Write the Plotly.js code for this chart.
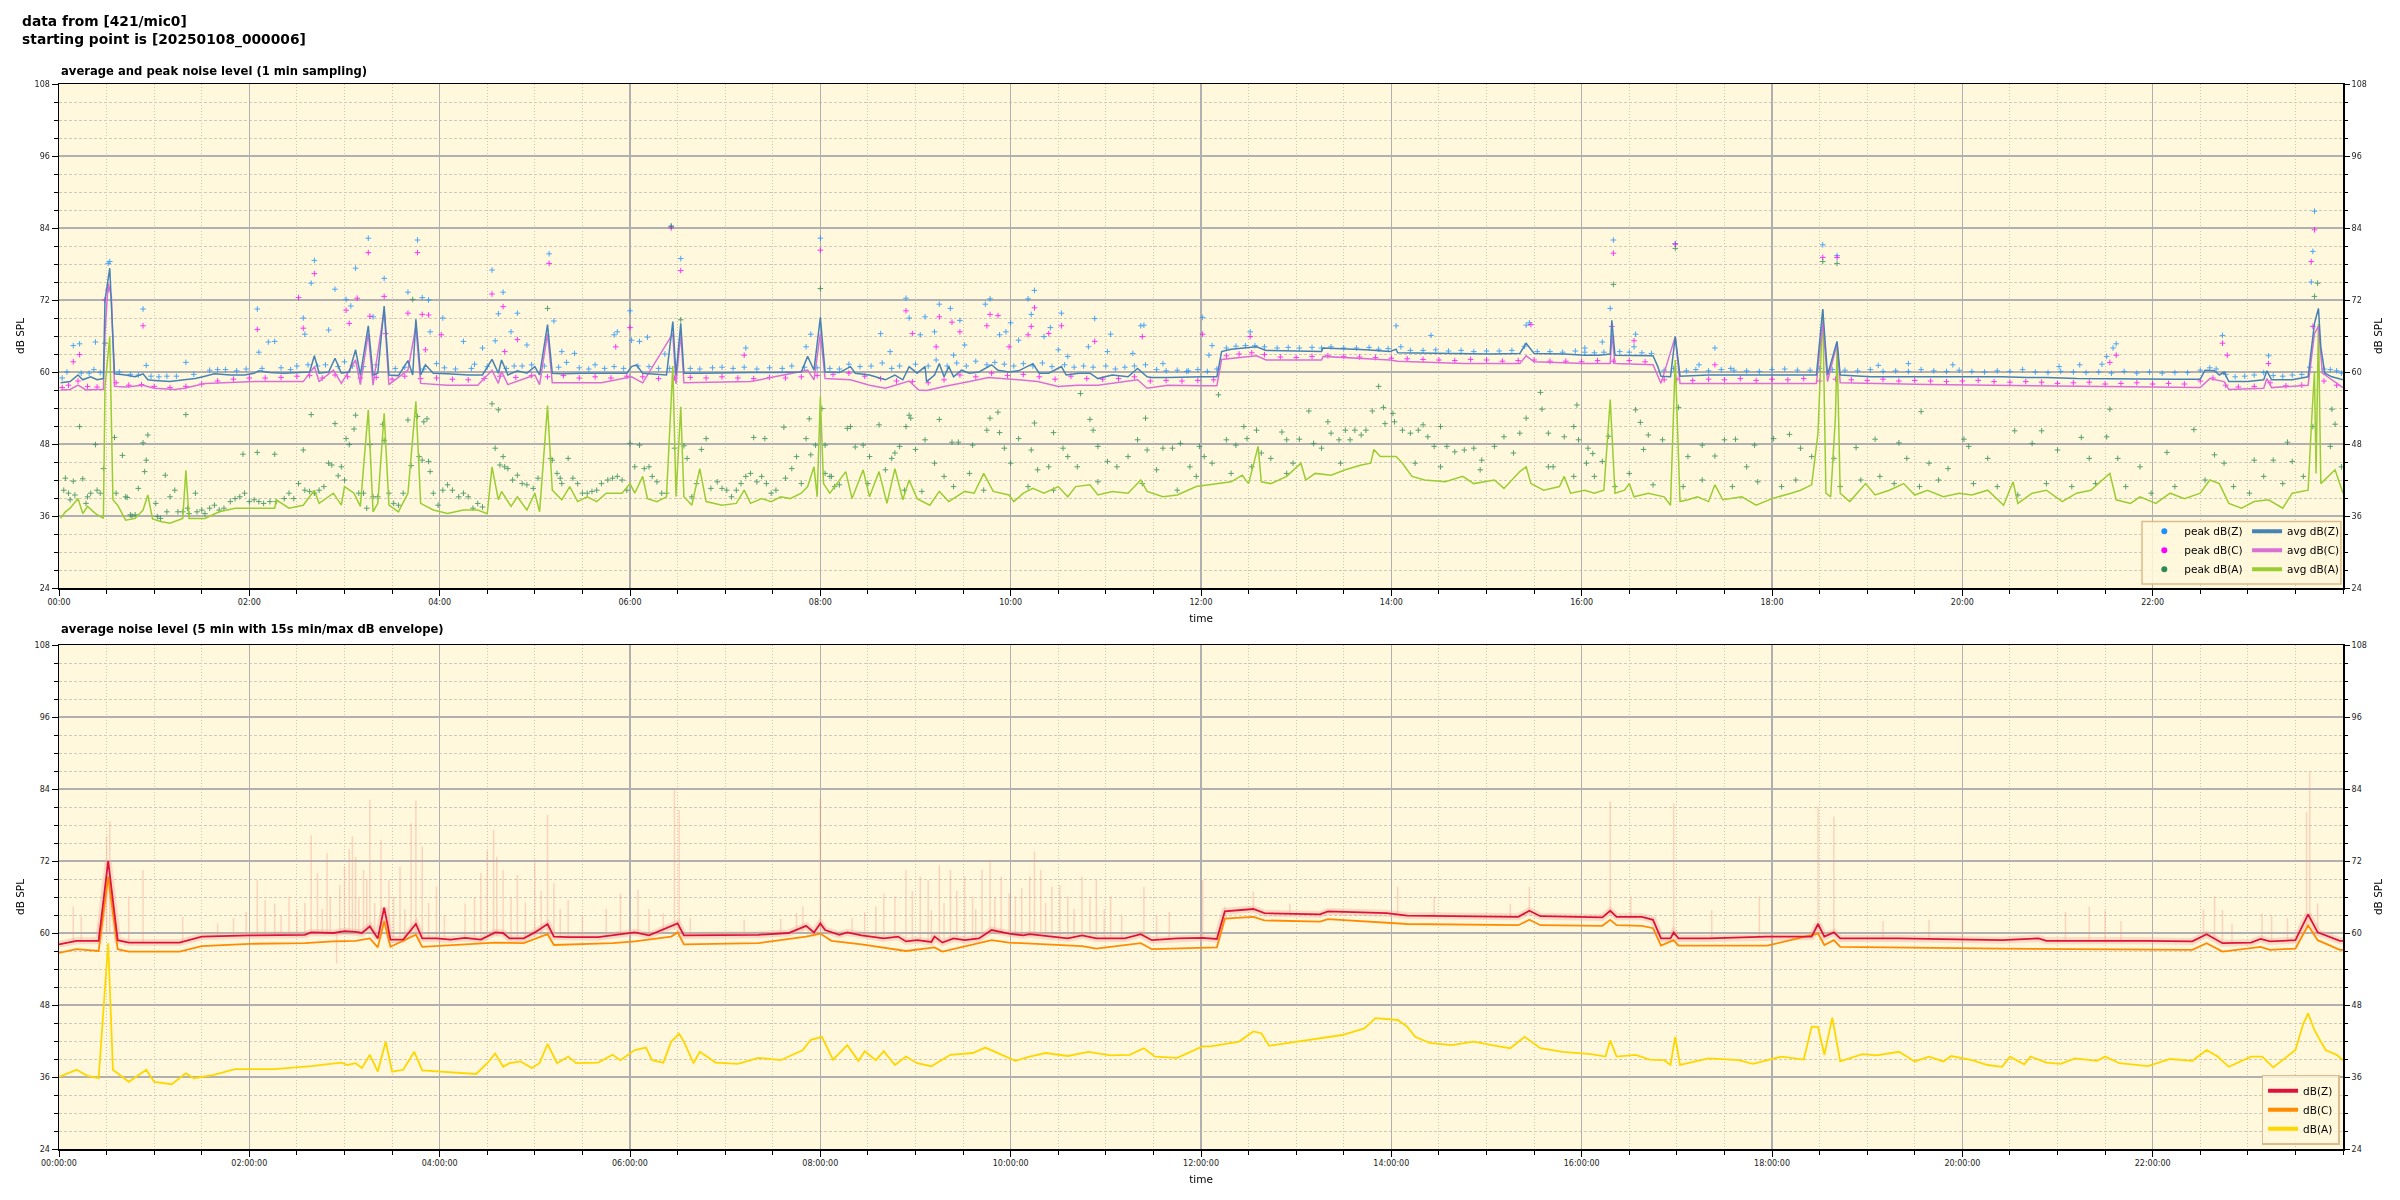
<!DOCTYPE html>
<html>
<head>
<meta charset="utf-8">
<script src="https://cdn.plot.ly/plotly-3.0.1.min.js"></script>
<style>html,body{margin:0;padding:0;background:#fff;}#chart{width:2400px;height:1200px;}</style>
</head>
<body>
<div id="chart"></div>
<script>
// ---------- DATA (time in minutes since 00:00, value in dB) ----------
const avgZ = [[1,58.2],[7,58.4],[12,59.5],[15,58.7],[20,59.2],[24,58.7],[28,58.9],[29,72.0],[32,77.3],[34,66.4],[35,59.7],[42,59.5],[48,59.2],[53,59.7],[56,58.7],[60,58.6],[70,58.4],[79,58.7],[86,58.9],[92,59.3],[98,59.7],[108,59.5],[117,59.5],[123,59.8],[126,60.2],[133,59.9],[142,59.8],[151,59.9],[158,60.0],[161,62.7],[164,59.8],[170,60.0],[174,62.3],[178,59.8],[183,60.0],[187,63.7],[190,59.5],[195,67.7],[198,59.5],[201,59.8],[205,71.0],[208,59.5],[214,59.4],[220,61.9],[223,59.5],[225,68.8],[228,59.5],[231,61.2],[236,59.8],[245,59.7],[258,59.5],[267,59.5],[273,62.1],[277,59.8],[279,62.0],[283,59.5],[289,60.2],[295,59.8],[300,60.9],[303,59.5],[308,67.9],[311,59.8],[317,59.7],[330,59.8],[342,59.8],[352,59.9],[358,59.8],[361,60.9],[364,61.2],[368,59.8],[374,59.7],[383,59.5],[387,68.4],[389,59.5],[392,68.1],[394,59.8],[405,59.8],[421,59.9],[436,59.9],[452,59.9],[468,60.0],[472,62.6],[476,60.3],[480,69.1],[483,60.0],[492,59.9],[499,60.9],[502,59.8],[511,59.5],[521,58.7],[527,59.5],[532,58.7],[536,60.9],[541,59.8],[546,60.9],[547,58.4],[552,59.5],[555,61.4],[558,59.2],[561,60.9],[564,59.2],[569,60.3],[574,59.8],[580,60.0],[588,61.2],[592,60.3],[599,60.0],[605,60.2],[614,61.4],[618,59.8],[624,59.8],[632,60.9],[635,59.5],[643,59.8],[650,59.8],[655,58.9],[664,59.5],[674,59.2],[680,60.6],[686,59.2],[689,59.1],[699,59.1],[711,59.2],[721,59.2],[730,59.2],[733,63.4],[739,63.8],[752,64.1],[755,64.2],[761,63.6],[777,63.5],[796,63.4],[797,64.0],[824,63.7],[839,63.4],[843,63.8],[844,63.2],[871,63.1],[902,63.0],[921,63.1],[925,64.8],[930,63.1],[949,63.0],[962,62.8],[971,62.8],[978,63.0],[979,68.6],[981,62.8],[993,62.7],[1005,62.7],[1008,60.9],[1010,59.3],[1016,59.2],[1019,65.9],[1022,59.3],[1040,59.5],[1055,59.5],[1080,59.5],[1092,59.5],[1108,59.5],[1112,70.5],[1115,59.5],[1121,65.1],[1123,59.5],[1142,59.2],[1163,59.2],[1179,59.3],[1204,59.2],[1225,59.2],[1241,59.1],[1253,59.1],[1272,58.9],[1303,58.8],[1334,58.8],[1350,58.8],[1353,60.3],[1359,60.2],[1362,59.5],[1365,60.0],[1368,58.4],[1380,58.4],[1390,58.7],[1392,60.2],[1395,58.7],[1408,58.7],[1418,59.2],[1420,63.7],[1422,68.1],[1424.5,70.6],[1426,64.2],[1428.5,59.8],[1433,59.2],[1440,58.7]];

const avgC = [[1,57.0],[7,57.1],[12,57.8],[17,57.0],[23,57.1],[28,57.1],[29,66.4],[31,74.8],[33,72.6],[35,57.6],[42,57.5],[53,57.8],[60,57.3],[73,57.1],[79,57.3],[86,57.8],[92,58.1],[104,58.2],[123,58.4],[139,58.4],[154,58.4],[161,60.9],[164,58.4],[173,60.3],[178,58.1],[187,62.0],[190,57.9],[195,66.4],[198,57.8],[205,70.3],[208,57.9],[220,60.3],[225,67.6],[228,58.1],[245,57.8],[264,57.8],[273,60.3],[277,58.1],[279,60.1],[283,57.9],[300,59.5],[303,57.9],[308,66.4],[311,58.2],[342,58.2],[361,59.2],[368,58.2],[387,66.4],[389,58.0],[392,66.4],[394,58.2],[436,58.4],[472,60.3],[476,58.7],[480,66.4],[483,58.9],[499,58.7],[511,57.8],[521,57.3],[536,58.5],[542,57.0],[547,56.9],[558,57.6],[574,58.4],[586,59.1],[605,58.7],[617,58.4],[630,57.6],[642,57.8],[655,57.8],[680,58.7],[686,57.3],[699,57.8],[721,57.7],[730,57.7],[733,62.1],[755,62.7],[761,62.0],[796,62.0],[797,62.6],[839,62.0],[844,61.8],[886,61.4],[921,61.4],[925,62.7],[930,61.7],[962,61.4],[978,61.4],[979,66.4],[981,61.4],[1005,61.2],[1010,58.1],[1019,65.9],[1022,58.1],[1055,58.1],[1108,58.1],[1112,68.4],[1115,58.4],[1121,64.8],[1123,58.2],[1179,57.9],[1241,57.7],[1272,57.6],[1350,57.4],[1356,58.9],[1365,58.4],[1368,57.1],[1390,57.3],[1392,58.9],[1395,57.4],[1418,57.8],[1420,62.6],[1422,66.4],[1424.5,67.6],[1427,59.8],[1440,57.4]];

const avgA = [[1,35.6],[4,36.7],[7,37.3],[12,38.9],[15,36.4],[18,37.6],[23,36.4],[28,35.6],[29,57.6],[32,65.9],[34,38.7],[37,37.8],[42,35.3],[48,35.6],[53,37.0],[56,39.5],[59,35.5],[64,35.1],[70,34.8],[78,35.6],[80,43.6],[82,35.6],[92,35.6],[101,36.7],[111,37.3],[123,37.3],[136,37.3],[137,38.7],[145,37.3],[154,37.8],[161,40.3],[164,38.1],[173,39.8],[178,37.8],[180,40.9],[186,39.8],[190,37.6],[195,53.7],[198,36.7],[201,38.1],[205,53.1],[208,37.8],[214,36.7],[220,39.8],[225,55.1],[228,38.1],[236,37.0],[245,36.4],[255,37.0],[264,37.0],[270,36.4],[273,44.2],[277,38.7],[279,40.1],[285,37.6],[289,39.2],[295,37.0],[300,39.8],[303,36.7],[308,54.4],[311,40.3],[317,38.7],[322,40.9],[327,38.4],[333,39.2],[339,38.4],[345,39.8],[355,39.8],[360,41.4],[363,39.8],[368,42.6],[371,38.9],[377,38.4],[383,39.2],[387,61.0],[389,39.2],[392,54.2],[394,39.2],[399,37.8],[404,43.9],[408,38.4],[418,37.8],[427,38.1],[432,40.3],[436,38.1],[443,38.9],[449,38.4],[455,39.2],[461,38.9],[468,39.8],[472,40.9],[476,44.2],[478,39.2],[480,55.9],[482,41.4],[486,39.8],[496,43.4],[500,38.9],[507,43.7],[511,39.2],[517,43.4],[522,38.1],[527,43.9],[532,38.7],[536,42.0],[541,38.9],[549,37.8],[555,40.1],[561,38.4],[571,40.1],[577,39.8],[583,43.1],[589,40.1],[599,39.5],[602,38.4],[608,39.8],[614,40.6],[621,39.8],[630,40.9],[636,39.2],[641,40.9],[650,41.2],[655,39.5],[664,40.1],[674,39.8],[682,42.0],[686,40.1],[696,39.2],[705,39.5],[717,40.9],[730,41.4],[739,41.7],[746,42.8],[750,41.4],[756,47.6],[758,41.7],[764,41.4],[774,42.6],[783,44.8],[786,42.0],[792,43.1],[802,42.8],[811,43.7],[821,44.5],[827,44.8],[829,47.1],[833,45.9],[843,45.9],[847,44.8],[853,42.6],[861,42.0],[874,41.7],[885,42.6],[892,41.4],[905,42.0],[911,40.6],[921,43.4],[925,44.2],[928,41.4],[936,40.3],[946,40.9],[949,42.6],[953,39.8],[962,40.3],[968,39.8],[974,40.3],[978,55.4],[981,39.8],[987,40.3],[990,41.4],[993,39.2],[1002,39.8],[1012,39.2],[1016,37.8],[1019,62.0],[1022,38.4],[1027,38.7],[1033,39.2],[1040,38.4],[1044,41.2],[1049,38.7],[1055,38.9],[1061,39.2],[1070,37.8],[1080,38.9],[1092,39.8],[1098,40.3],[1105,41.2],[1109,49.8],[1112,70.3],[1114,39.8],[1117,39.2],[1120,52.6],[1121,64.2],[1123,39.8],[1129,38.4],[1139,41.4],[1145,39.5],[1154,40.3],[1163,41.4],[1170,39.5],[1178,40.3],[1188,39.2],[1198,39.8],[1206,39.5],[1216,40.3],[1226,37.8],[1232,41.7],[1235,38.1],[1244,39.8],[1253,40.3],[1263,38.4],[1272,39.8],[1281,40.3],[1293,43.1],[1297,38.7],[1306,38.1],[1312,39.2],[1322,38.1],[1331,39.8],[1340,38.9],[1350,39.8],[1356,42.0],[1362,41.4],[1368,38.1],[1376,37.3],[1384,38.4],[1393,38.7],[1402,37.3],[1408,39.8],[1418,40.3],[1420,50.9],[1422,60.0],[1423,43.1],[1424.5,68.0],[1426,41.4],[1435,43.7],[1440,39.8]];

const peakZ = [[32,78.4],[31,78.1],[9,64.4],[13,64.7],[23,65.0],[53,70.5],[55,61.1],[80,61.6],[125,70.5],[126,63.3],[132,65.0],[136,65.1],[154,69.0],[155,66.3],[161,78.6],[159,74.8],[170,67.0],[174,73.8],[181,72.1],[184,71.0],[187,77.3],[195,82.3],[198,69.2],[205,75.6],[220,73.3],[226,82.0],[229,72.4],[233,72.0],[234,66.7],[242,69.0],[255,65.1],[267,64.0],[273,77.0],[275,65.2],[277,69.7],[280,73.3],[285,66.7],[289,69.8],[295,64.5],[309,79.7],[312,68.5],[317,63.4],[325,63.1],[350,66.2],[352,66.7],[360,70.2],[361,65.3],[366,65.1],[371,65.8],[382,63.0],[386,84.3],[392,78.9],[433,64.0],[471,64.2],[474,66.3],[480,82.3],
[534,72.3],[536,69.0],[546,69.2],[555,71.3],[562,70.6],[568,68.6],[584,71.3],[587,72.2],[593,66.2],[600,68.2],[611,72.2],[615,73.6],[613,69.6],[625,67.4],[632,69.8],[653,68.9],[663,66.3],[682,67.7],[684,67.8],[721,69.1],[727,64.4],[751,66.7],[843,67.7],[865,66.1],[925,67.8],[927,68.2],[518,66.4],[524,63.4],[543,66.2],[552,66.7],[564,62.8],[571,64.5],[597,66.7],[605,65.3],[621,65.9],[630,63.7],[636,62.6],[649,64.2],[661,63.4],[677,63.1],[696,61.4],[711,60.1],[725,62.8],
[980,82.0],[978,70.6],[994,66.3],[973,65.0],[1019,81.4],[1044,64.0],[1112,81.2],[1121,79.4],[1297,64.7],[1364,66.1],[1393,62.7],[1422,86.8],[1421,80.1],[1420,75.0],[1291,62.6],[1295,64.0],[1147,61.1],[1166,61.4],[1194,61.2],[1261,60.9],[1274,61.2],[1288,61.3],[962,64.0],[1034,61.2],[1054,60.6],[993,64.2],
[2,59.0],[5,60.0],[14,59.8],[19,59.8],[22,60.4],[26,59.9],[38,60.0],[45,59.6],[50,59.5],[58,59.3],[63,59.2],[68,59.3],[74,59.3],[85,59.6],[95,60.3],[100,60.4],[105,60.4],[112,60.2],[118,60.5],[128,60.6],[140,60.7],[146,60.4],[150,61.0],[157,61.2],[163,61.0],[168,61.2],[176,60.9],[180,61.7],[185,61.0],[192,60.9],[200,61.2],[212,60.6],[218,60.8],[230,60.5],[238,61.4],[243,60.7],[250,60.5],[260,60.6],[262,61.3],[270,60.9],[282,60.6],[287,61.0],[292,61.0],[298,61.2],[306,61.0],[315,60.8],[320,61.6],[328,60.7],[334,60.5],[338,61.2],[344,60.6],[350,60.9],[356,60.6],[365,61.0],[372,60.9],[378,60.6],[385,60.6],[398,60.6],[404,60.5],[412,60.7],[418,60.8],[425,60.6],[432,60.8],[440,60.5],[448,60.7],[456,60.6],[462,61.0],[470,60.8],[478,60.7],[486,60.6],
[492,60.5],[498,61.3],[505,60.9],[512,61.0],[519,61.5],[525,60.6],[530,61.0],[540,61.3],[548,61.0],[553,62.0],[560,61.0],[566,61.5],[572,61.0],[578,61.8],[585,61.2],[590,61.6],[596,61.3],[602,61.0],[608,61.4],[614,61.0],[620,61.5],[626,60.9],[634,61.2],[640,60.8],[646,61.0],[652,60.8],[660,61.0],[666,60.5],[672,60.8],[678,61.0],[685,61.2],[692,60.4],[698,60.2],[705,60.3],[712,60.2],[718,60.4],[724,60.1],[730,60.5],[736,64.0],[742,64.3],[748,64.4],[754,64.4],[760,64.2],[768,64.0],[775,64.1],[782,64.0],[790,64.1],[796,64.0],[802,64.2],[810,64.0],[818,64.0],[826,64.1],[832,63.8],[838,63.9],[846,64.2],[852,63.6],[860,63.6],[868,63.7],[876,63.5],[884,63.6],[892,63.4],[900,63.5],[908,63.5],[916,63.6],[924,64.3],[932,63.4],[940,63.4],[948,63.3],[956,63.5],[962,63.3],
[968,63.2],[974,63.3],[984,63.4],[990,63.3],[998,63.2],[1004,63.1],[1012,60.3],[1018,60.6],[1026,60.2],[1032,60.4],[1040,60.2],[1048,60.4],[1056,60.3],[1064,60.2],[1072,60.1],[1080,60.4],[1088,60.5],[1096,60.3],[1104,60.3],[1110,60.6],[1118,60.4],[1126,60.3],[1134,60.2],[1142,60.4],[1150,60.1],[1158,60.2],[1166,60.1],[1174,60.4],[1182,60.2],[1190,60.1],[1198,60.3],[1206,60.1],[1214,60.0],[1222,60.2],[1230,60.1],[1238,60.4],[1246,60.0],[1254,59.9],[1262,60.1],[1270,60.0],[1278,59.9],[1286,60.0],[1294,59.8],[1302,60.1],[1310,59.8],[1318,60.0],[1326,59.8],[1334,59.9],[1342,59.9],[1350,60.3],[1356,60.7],[1360,60.5],[1366,59.6],[1372,59.2],[1378,59.3],[1384,59.5],[1390,59.9],[1396,59.4],[1402,59.3],[1408,59.5],[1414,59.6],[1419,60.8],[1428,60.5],[1432,60.4],[1436,60.2],[1439,59.8]];

const peakC = [[29,72.0],[31,73.7],[13,62.9],[9,61.7],[53,67.7],[125,67.1],[154,67.3],[161,76.4],[151,72.4],[181,70.3],[183,68.1],[188,72.3],[195,79.9],[196,69.3],[205,72.6],[206,66.4],[220,69.8],[226,79.9],[229,69.6],[233,69.5],[231,63.7],[241,66.2],[273,73.0],[280,70.9],[281,63.4],[289,65.4],[309,78.1],[360,67.4],[392,76.9],[386,84.0],[351,64.2],[432,62.8],[480,80.3],
[534,70.2],[538,66.4],[553,64.2],[555,69.2],[563,68.3],[568,66.7],[585,67.7],[587,69.6],[592,69.4],[599,64.2],[611,66.2],[615,70.7],[613,67.6],[624,66.4],[632,67.7],[653,65.1],[683,65.9],[721,66.3],[751,65.9],[928,67.9],
[980,79.8],[979,67.6],[1019,81.3],[1112,79.1],[1121,79.1],[993,65.2],[1044,61.2],[1293,61.6],[1297,62.8],[1364,64.8],[1367,62.8],[1393,61.4],[1422,83.7],[1421,67.6],[1420,78.4],
[2,57.4],[6,57.8],[12,58.5],[18,57.6],[24,57.5],[36,58.2],[44,57.8],[52,57.9],[60,57.6],[70,57.4],[80,57.6],[90,58.0],[100,58.5],[110,58.8],[120,59.0],[130,59.0],[140,59.1],[150,59.3],[158,59.4],[166,59.0],[174,59.5],[182,59.2],[190,59.0],[200,59.1],[210,58.8],[218,59.3],[228,58.9],[238,59.0],[248,58.8],[258,58.7],[268,58.9],[278,59.3],[288,59.1],[298,59.4],[308,59.2],[318,59.4],[328,59.0],[338,59.2],[348,59.0],[358,59.3],[368,59.2],[378,58.9],[388,59.0],[398,59.1],[408,59.0],[418,59.2],[428,59.0],[438,58.9],[448,59.1],[458,59.0],[468,59.2],[478,59.4],[488,59.6],[498,59.8],[508,59.3],[518,58.9],[528,58.5],[538,58.4],[548,58.2],[558,58.7],[568,59.5],[578,59.2],[588,59.8],[598,59.4],[608,59.6],[618,59.2],[628,58.8],[638,59.3],[648,58.9],[658,58.8],[668,58.9],[678,59.2],[688,58.5],[698,58.6],[708,58.5],[718,58.6],[728,58.7],[736,62.7],[744,63.0],[752,63.2],[760,62.9],[770,62.5],[780,62.4],[790,62.6],[800,62.7],[810,62.6],[820,62.5],[830,62.4],[840,62.3],[850,62.2],[860,62.1],[870,62.0],[880,61.9],[890,62.1],[900,62.0],[910,61.8],[920,61.9],[930,62.0],[940,61.8],[950,61.8],[960,61.7],[970,61.9],[980,61.8],[990,61.9],[1000,61.7],[1012,58.7],[1020,58.8],[1030,58.6],[1040,58.8],[1050,58.7],[1060,58.9],[1070,58.6],[1080,58.8],[1090,58.7],[1100,58.9],[1110,58.5],[1120,58.8],[1130,58.7],[1140,58.6],[1150,58.8],[1160,58.5],[1170,58.6],[1180,58.5],[1190,58.4],[1200,58.5],[1210,58.6],[1220,58.4],[1230,58.3],[1240,58.4],[1250,58.3],[1260,58.1],[1270,58.2],[1280,58.3],[1290,58.0],[1300,58.1],[1310,58.2],[1320,58.0],[1330,58.1],[1340,58.0],[1350,58.5],[1358,59.0],[1366,57.8],[1374,57.5],[1384,57.6],[1394,58.2],[1404,57.7],[1414,57.8],[1428,58.5],[1436,57.8]];

const peakA = [[4,42.3],[9,41.8],[13,50.9],[15,42.2],[3,40.3],[6,39.8],[7,38.7],[10,39.5],[17,38.1],[18,39.2],[20,39.8],[23,47.9],[24,40.3],[26,39.8],[28,43.9],[29,64.8],[35,49.1],[36,39.8],[40,46.1],[42,39.2],[43,39.1],[45,36.2],[46,36.0],[48,36.2],[50,40.6],[53,48.2],[54,43.4],[55,45.3],[56,49.5],[61,38.1],[62,35.9],[64,35.6],[67,42.8],[68,36.7],[70,39.2],[73,40.3],[75,36.7],[78,36.7],[80,52.9],[81,37.3],[82,36.4],[86,39.8],[87,36.7],[90,37.0],[92,36.4],[95,37.3],[98,37.8],[101,37.0],[104,37.3],[108,38.4],[111,38.9],[114,39.2],[116,46.3],[117,39.8],[120,38.4],[123,38.7],[125,46.6],[126,38.4],[129,38.1],[133,38.4],[136,46.3],[137,38.4],[142,38.9],[145,39.8],[148,38.9],[151,41.4],[154,47.0],[155,40.3],[158,40.1],[159,52.9],[161,39.8],[164,40.3],[167,40.9],[170,44.8],[172,44.5],[174,51.4],[176,42.7],[178,44.2],[180,42.0],[181,48.9],[183,47.9],[186,50.5],[187,52.8],[189,39.8],[192,39.8],[194,37.3],[196,47.9],[198,39.2],[201,39.2],[204,51.3],[205,48.6],[208,39.8],[211,38.1],[214,37.8],[217,39.8],[220,52.0],[222,44.4],[223,72.1],[226,52.6],[227,45.9],[229,45.3],[230,51.7],[232,52.2],[233,45.1],[234,43.4],[236,39.8],[239,37.8],[242,40.3],[245,41.2],[248,40.3],[252,39.2],[255,39.8],[258,39.2],[261,37.3],[264,38.1],[267,37.5],[273,54.7],[275,47.3],[277,53.7],[278,44.5],[280,45.9],[281,44.2],[283,43.9],[286,42.0],[289,42.8],[292,41.4],[295,41.2],[299,40.6],[302,42.3],[308,70.6],[310,45.6],[311,45.3],[314,43.1],[316,42.3],[317,41.4],[321,45.6],[324,42.3],[327,41.4],[330,39.8],[333,39.8],[336,40.1],[339,40.3],[342,41.4],[346,42.0],[349,42.3],[352,42.6],[355,42.0],[358,40.3],[360,48.1],[363,44.2],[366,47.8],[369,43.9],[372,44.2],[374,42.6],[377,41.7],[380,39.8],[383,39.8],[386,84.3],[388,47.3],[392,68.7],[394,47.7],[396,45.6],[399,39.2],[402,41.4],[405,47.1],[408,48.9],[411,40.6],[415,41.7],[418,40.6],[421,40.3],[424,39.2],[427,40.3],[430,41.4],[433,42.6],[436,43.1],[438,49.1],[440,41.7],[443,42.6],[445,48.9],[446,41.4],[449,39.8],[452,40.3],[457,50.8],[458,42.3],[462,43.9],[465,45.9],[468,41.4],[471,48.9],[473,52.2],[474,46.2],[477,47.8],[480,73.9],[481,53.9],[483,43.1],[487,42.6],
[483,47.8],[486,42.6],[492,41.2],[497,50.6],[499,50.9],[502,47.5],[507,47.8],[511,45.9],[517,51.2],[521,43.7],[525,45.6],[527,46.5],[530,47.6],[534,50.9],[536,52.8],[537,52.3],[540,47.1],[546,48.7],[552,44.8],[555,52.1],[558,42.6],[563,48.3],[567,48.3],[574,43.1],[576,47.8],[585,50.3],[587,52.3],[592,53.3],[593,49.9],[596,47.3],[600,44.8],[605,48.9],[613,47.0],[615,51.5],[617,43.7],[624,44.2],[627,49.9],[633,47.3],[636,45.9],[642,44.2],[644,56.4],[650,52.1],[652,50.3],[655,47.6],[661,45.1],[667,44.2],[674,45.9],[680,48.7],[685,52.3],[686,47.0],[692,43.7],[696,47.3],[702,47.3],[707,48.1],[713,44.2],[719,47.6],[722,45.9],[727,44.8],[731,56.2],[736,48.7],[742,47.8],[747,50.9],[749,48.9],[755,50.3],[758,46.5],[764,45.6],[771,50.0],[774,48.7],[778,44.8],[782,48.8],[788,53.5],[791,48.1],[796,47.3],[800,51.7],[802,49.8],[807,48.7],[811,50.3],[814,48.7],[817,50.3],[821,49.5],[824,50.3],[828,53.5],[832,57.6],[835,54.1],[836,51.4],[841,53.1],[842,51.7],[847,50.3],[852,49.8],[857,50.3],[860,51.2],[863,49.2],[867,47.6],[871,50.9],[875,47.6],[880,46.7],[886,47.0],[892,47.3],[897,45.3],[905,47.6],[911,49.2],[921,49.8],[925,52.3],[934,56.6],[935,53.8],[939,49.8],[942,44.2],[949,49.2],[955,50.9],[957,54.5],[958,48.7],[963,44.8],
[489,40.9],[510,41.4],[533,40.3],[544,40.1],[564,40.9],[583,40.3],[611,40.9],[627,40.3],[655,41.7],[683,41.4],[705,40.3],[717,42.6],[739,43.1],[752,44.2],[774,43.1],[808,44.8],[855,44.8],[871,44.2],[896,43.7],[917,46.5],[939,44.2],[955,42.6],
[980,74.6],[1019,80.6],[1121,78.1],[1112,78.4],[1424,74.8],[1422,72.6],[1421,50.9],[1433,53.8],[1435,51.3],[1432,47.6],[994,53.7],[997,51.6],[977,49.3],[964,47.3],[967,46.4],[973,45.1],[999,47.1],[1002,49.5],[1011,48.7],[1021,54.1],[1027,45.9],[1036,47.8],[1044,46.0],[1050,48.7],[1057,48.8],[1064,44.2],[1069,47.8],[1081,48.9],[1091,49.6],[1098,47.3],[1105,45.9],[1119,45.6],[1133,47.4],[1145,48.8],[1160,48.2],[1165,45.6],[1174,53.4],[1179,44.8],[1191,43.9],[1201,48.8],[1204,47.6],[1216,45.6],[1233,50.2],[1244,48.1],[1250,50.2],[1260,47.0],[1275,49.1],[1280,45.6],[1291,49.2],[1293,53.8],[1298,45.6],[1312,44.2],[1329,46.6],[1346,50.4],[1359,46.2],[1365,44.8],[1384,45.3],[1396,45.3],[1405,48.3],[1408,45.1],
[968,42.6],[981,40.9],[990,43.1],[1005,41.2],[1024,40.9],[1036,42.0],[1055,40.9],[1071,41.7],[1086,40.9],[1095,42.0],[1123,40.9],[1136,42.0],[1148,42.6],[1157,41.4],[1173,40.9],[1185,42.0],[1207,41.4],[1222,40.9],[1235,39.5],[1253,41.4],[1269,40.9],[1284,41.4],[1303,40.9],[1319,39.8],[1334,40.9],[1353,42.0],[1371,40.9],[1381,39.8],[1390,42.6],[1402,41.4],[1415,42.6],[1439,44.2]];

// bottom chart: 5 min averages
const dbZ = [[0,58.1],[11,58.7],[25,58.7],[31,72.0],[37,58.8],[44,58.4],[76,58.4],[90,59.4],[120,59.6],[155,59.7],[159,60.1],[173,60.0],[180,60.3],[187,60.2],[191,60.0],[196,61.1],[201,59.1],[205,64.2],[209,58.9],[217,58.9],[225,61.5],[229,59.1],[238,59.1],[247,58.9],[256,59.2],[266,58.9],[275,60.1],[280,60.0],[284,59.1],[293,59.1],[300,60.1],[308,61.5],[312,59.4],[321,59.3],[340,59.3],[349,59.6],[363,60.1],[372,59.6],[386,61.1],[390,61.6],[394,59.6],[414,59.6],[441,59.7],[460,60.0],[471,61.2],[476,60.1],[480,61.6],[483,60.5],[492,59.7],[497,60.1],[506,59.6],[520,59.1],[529,59.4],[534,58.6],[541,58.8],[550,58.5],[552,59.4],[557,58.4],[564,59.1],[571,58.8],[580,59.1],[588,60.5],[599,59.9],[608,59.6],[612,59.8],[626,59.4],[636,59.1],[645,59.6],[654,59.1],[672,59.1],[682,59.8],[689,58.8],[705,59.1],[721,59.2],[730,59.0],[735,63.6],[753,64.0],[760,63.3],[795,63.1],[800,63.6],[837,63.3],[850,62.9],[920,62.7],[927,63.7],[934,62.8],[973,62.6],[978,63.7],[982,62.7],[998,62.7],[1005,62.2],[1010,59.1],[1016,59.1],[1018,60.1],[1021,59.1],[1040,59.1],[1077,59.4],[1105,59.4],[1109,61.5],[1113,59.4],[1119,60.1],[1123,59.1],[1160,59.1],[1197,59.0],[1225,58.8],[1248,59.1],[1253,58.7],[1317,58.7],[1345,58.6],[1354,59.8],[1364,58.3],[1382,58.4],[1388,59.0],[1394,58.6],[1410,58.8],[1418,63.1],[1424,60.1],[1438,58.7],[1440,58.7]];

const dbC = [[0,56.7],[11,57.3],[25,57.0],[31,69.4],[37,57.3],[44,56.9],[76,56.9],[90,57.8],[120,58.2],[155,58.3],[173,58.6],[187,58.7],[196,59.1],[201,57.6],[205,62.0],[209,57.7],[225,59.7],[229,57.7],[275,58.4],[293,58.3],[308,59.8],[312,58.0],[349,58.3],[363,58.6],[386,59.4],[390,60.1],[394,58.1],[441,58.3],[471,59.4],[480,59.9],[487,58.7],[506,58.1],[534,57.0],[552,57.6],[557,56.9],[588,58.8],[599,58.4],[645,57.8],[654,57.4],[682,58.3],[689,57.3],[721,57.6],[730,57.6],[735,62.4],[753,62.7],[760,62.1],[795,61.9],[800,62.3],[850,61.5],[920,61.3],[927,62.2],[934,61.3],[973,61.2],[978,62.2],[982,61.3],[998,61.2],[1005,60.8],[1010,57.9],[1018,58.8],[1021,57.9],[1077,57.9],[1109,59.9],[1113,58.0],[1119,58.8],[1123,57.7],[1225,57.4],[1345,57.2],[1354,58.3],[1364,56.9],[1388,57.7],[1394,57.2],[1410,57.4],[1418,61.3],[1424,58.8],[1438,57.2],[1440,57.2]];

const dbA = [[0,36.0],[11,37.2],[18,36.2],[25,35.8],[31,58.3],[34,37.2],[44,35.2],[55,37.2],[60,35.2],[71,34.8],[80,36.6],[85,35.8],[97,36.3],[111,37.3],[136,37.3],[159,37.8],[178,38.4],[182,38.0],[187,38.3],[191,37.5],[196,39.7],[201,36.9],[206,41.9],[210,36.9],[217,37.2],[224,40.2],[229,37.1],[247,36.8],[263,36.5],[270,38.3],[275,39.9],[280,37.7],[284,38.3],[291,38.6],[298,37.5],[303,38.3],[308,41.5],[314,38.3],[321,39.4],[326,38.3],[340,38.4],[349,39.7],[354,38.8],[363,40.5],[370,40.9],[374,38.8],[381,38.4],[386,41.9],[391,43.2],[394,41.9],[400,38.3],[404,40.2],[414,38.4],[428,38.2],[441,39.2],[455,38.8],[469,40.5],[474,42.2],[481,42.7],[488,38.9],[497,41.3],[504,38.7],[508,40.3],[515,38.8],[520,40.3],[527,38.0],[534,39.4],[541,38.3],[550,37.8],[562,39.7],[576,40.0],[584,40.9],[594,39.7],[603,38.7],[612,39.4],[622,40.0],[636,39.5],[649,40.2],[663,39.6],[675,39.7],[684,40.8],[691,39.4],[705,39.2],[721,41.1],[726,41.1],[744,41.9],[753,43.6],[758,43.3],[763,41.2],[776,41.7],[790,42.2],[809,43.0],[823,44.1],[830,45.8],[844,45.5],[850,44.4],[855,42.7],[864,41.7],[878,41.3],[892,41.9],[906,41.2],[915,40.8],[924,42.7],[934,40.8],[948,40.2],[966,39.8],[975,39.4],[978,42.1],[982,39.4],[994,39.7],[1003,38.9],[1012,38.8],[1016,38.0],[1019,42.7],[1022,38.0],[1031,38.6],[1040,39.1],[1059,38.8],[1068,38.2],[1086,39.4],[1100,38.9],[1105,44.4],[1109,44.3],[1113,39.7],[1118,45.9],[1123,38.6],[1137,39.8],[1146,39.6],[1160,40.2],[1170,38.6],[1179,39.4],[1188,38.6],[1193,39.5],[1206,38.8],[1216,38.0],[1225,37.7],[1230,39.4],[1239,38.1],[1243,39.4],[1253,38.4],[1262,38.2],[1271,39.1],[1285,38.7],[1290,39.4],[1299,38.3],[1317,37.8],[1331,39.0],[1345,38.7],[1354,40.5],[1361,39.4],[1368,37.7],[1382,39.4],[1389,39.4],[1396,37.6],[1410,40.5],[1415,44.9],[1418,46.6],[1422,43.8],[1429,40.5],[1436,39.7],[1440,38.8]];

// 15 s min/max envelope spikes: [time, low dB, high dB]
const envSpikes = [[9,58.4,64.4],[14,58.5,62.7],[25,58.6,61.6],[30,60.0,76.1],[32,60.0,78.6],[44,58.4,66.1],[53,58.4,70.5],[78,58.6,62.7],[100,59.4,61.6],[110,59.5,62.5],[118,59.6,63.5],[125,59.6,68.8],[130,59.6,65.5],[136,59.6,64.9],[140,59.7,63.0],[145,59.7,66.1],[150,59.7,63.8],[155,59.8,65.0],[159,59.8,76.3],[163,59.9,70.0],[166,59.9,64.0],[169,59.9,73.3],[171,59.9,66.1],[175,60.0,54.9],[177,60.0,68.0],[180,60.2,71.1],[183,60.2,74.0],[185,60.2,76.1],[187,60.1,72.7],[189,60.1,66.0],[192,60.0,70.5],[194,60.3,69.0],[196,60.5,82.2],[199,60.0,65.0],[203,60.0,75.5],[208,59.5,68.8],[211,59.3,66.0],[215,59.2,71.1],[218,59.2,64.0],[222,59.5,78.3],[225,60.0,82.1],[229,59.2,74.4],[233,59.2,65.0],[238,59.1,67.7],[243,59.1,63.0],[256,59.1,64.9],[262,59.1,66.0],[266,59.1,70.0],[270,59.2,73.8],[274,59.5,77.2],[276,59.5,72.7],[280,59.5,70.5],[285,59.1,66.0],[289,59.1,69.7],[294,59.1,65.0],[300,59.5,72.2],[304,59.5,67.0],[308,60.5,79.7],[312,59.4,68.3],[316,59.4,64.0],[321,59.3,65.5],[330,59.3,63.0],[345,59.5,64.0],[354,59.6,66.6],[365,59.8,67.2],[372,59.8,64.0],[381,60.0,63.3],[388,60.5,83.8],[391,60.5,80.5],[398,59.6,62.5],[432,59.7,62.2],[455,59.8,62.4],[465,59.9,63.3],[469,60.3,64.4],[480,61.0,82.4],[500,59.9,62.5],[508,59.5,63.5],[515,59.2,64.4],[520,59.1,66.6],[527,59.2,66.1],[534,58.8,70.5],[538,58.8,67.0],[543,58.8,69.4],[548,58.7,68.8],[550,58.6,63.8],[555,58.6,71.3],[558,58.7,65.0],[562,58.8,70.5],[566,58.8,67.0],[571,58.8,69.4],[576,59.0,66.1],[578,59.0,64.0],[582,59.5,70.5],[587,60.0,72.2],[590,59.8,66.0],[594,59.8,69.4],[599,59.7,66.6],[603,59.6,66.1],[607,59.6,67.5],[612,59.6,69.4],[615,59.6,73.6],[619,59.5,70.5],[622,59.5,65.0],[626,59.4,67.7],[631,59.3,68.0],[636,59.1,66.1],[640,59.2,64.0],[645,59.5,69.4],[650,59.3,66.0],[654,59.1,68.8],[659,59.1,64.0],[663,59.0,66.1],[670,59.1,63.0],[684,59.6,67.7],[692,59.0,63.0],[700,59.0,63.5],[721,59.1,68.8],[735,63.0,64.4],[753,63.5,66.9],[776,63.0,64.9],[809,63.0,63.8],[844,62.9,67.7],[867,62.8,66.1],[915,62.7,64.9],[927,63.2,67.7],[978,63.2,81.9],[991,62.7,66.1],[1018,59.5,81.6],[1042,59.1,63.8],[1072,59.3,66.1],[1109,60.5,81.1],[1119,59.8,79.4],[1150,59.1,62.0],[1179,59.1,62.2],[1200,59.0,62.5],[1265,58.9,63.5],[1280,58.8,64.4],[1290,58.8,63.8],[1300,58.7,62.0],[1352,59.5,64.0],[1359,59.2,66.1],[1364,58.4,63.8],[1370,58.4,61.5],[1389,58.8,63.3],[1395,58.6,63.0],[1405,58.8,62.5],[1417,61.0,80.2],[1419,62.0,86.9],[1424,59.8,64.9]];

const yTicks = [24, 36, 48, 60, 72, 84, 96, 108];
const xTickHours = [0, 2, 4, 6, 8, 10, 12, 14, 16, 18, 20, 22];

// ---------- helpers ----------
const BASE = Date.UTC(2025, 0, 8, 0, 0, 0);
const T = m => BASE + m * 60000;
const X = arr => arr.map(p => T(p[0]));
const Y = arr => arr.map(p => p[1]);
function segs(arr) {
  const x = [], y = [];
  arr.forEach(s => { x.push(T(s[0]), T(s[0]), null); y.push(s[1], s[2], null); });
  return {x, y};
}

const COL = {
  pZ: '#1E90FF', pC: '#FF00FF', pA: '#2E8B57',
  aZ: '#4682B4', aC: '#DA70D6', aA: '#9ACD32',
  bZ: '#DC143C', bC: '#FF8C00', bA: '#FFD700'
};

function peakTrace(arr, color) {
  return {x: X(arr), y: Y(arr), xaxis: 'x', yaxis: 'y', type: 'scatter', mode: 'markers',
    marker: {symbol: 'cross-thin', size: 4, line: {width: 1, color: color}, color: color},
    opacity: 0.8, showlegend: false, hoverinfo: 'skip'};
}
function lineTrace(arr, color, width, xa, ya) {
  return {x: X(arr), y: Y(arr), xaxis: xa, yaxis: ya, type: 'scatter', mode: 'lines',
    line: {color: color, width: width}, showlegend: false, hoverinfo: 'skip'};
}
function legMarker(name, color, leg) {
  return {x: [null], y: [null], xaxis: 'x', yaxis: 'y', type: 'scatter', mode: 'markers',
    marker: {symbol: 'circle', size: 6, color: color}, name: name, legend: leg, showlegend: true};
}
function legLine(name, color, leg, xa, ya) {
  return {x: [null], y: [null], xaxis: xa, yaxis: ya, type: 'scatter', mode: 'lines',
    line: {color: color, width: 4}, name: name, legend: leg, showlegend: true};
}

const sp = segs(envSpikes);

const traces = [
  peakTrace(peakZ, COL.pZ),
  peakTrace(peakC, COL.pC),
  peakTrace(peakA, COL.pA),
  lineTrace(avgA, COL.aA, 1.5, 'x', 'y'),
  lineTrace(avgC, COL.aC, 1.5, 'x', 'y'),
  lineTrace(avgZ, COL.aZ, 1.5, 'x', 'y'),
  legMarker('peak dB(Z)', COL.pZ, 'legend'),
  legMarker('peak dB(C)', COL.pC, 'legend'),
  legMarker('peak dB(A)', COL.pA, 'legend'),
  legLine('avg dB(Z)', COL.aZ, 'legend2', 'x', 'y'),
  legLine('avg dB(C)', COL.aC, 'legend2', 'x', 'y'),
  legLine('avg dB(A)', COL.aA, 'legend2', 'x', 'y'),
  // bottom
  {x: sp.x, y: sp.y, xaxis: 'x2', yaxis: 'y2', type: 'scatter', mode: 'lines',
   line: {color: 'rgba(240,150,130,0.35)', width: 1.5}, showlegend: false, hoverinfo: 'skip', connectgaps: false},
  lineTrace(dbZ, 'rgba(245,165,150,0.35)', 7, 'x2', 'y2'),
  lineTrace(dbA, COL.bA, 1.8, 'x2', 'y2'),
  lineTrace(dbC, COL.bC, 1.8, 'x2', 'y2'),
  lineTrace(dbZ, COL.bZ, 1.8, 'x2', 'y2'),
  legLine('dB(Z)', COL.bZ, 'legend3', 'x2', 'y2'),
  legLine('dB(C)', COL.bC, 'legend3', 'x2', 'y2'),
  legLine('dB(A)', COL.bA, 'legend3', 'x2', 'y2'),
  // right-side axes carriers
  {x: [], y: [], xaxis: 'x', yaxis: 'y3', type: 'scatter', showlegend: false, hoverinfo: 'skip'},
  {x: [], y: [], xaxis: 'x2', yaxis: 'y4', type: 'scatter', showlegend: false, hoverinfo: 'skip'}
];

const FONT = 'DejaVu Sans, sans-serif';
const tickFont = {family: FONT, size: 8, color: '#222'};
const titleFont = {family: FONT, size: 10.5, color: '#000'};
const legFont = {family: FONT, size: 10.5, color: '#000'};

function xAxis(anchor, fmt) {
  return {anchor: anchor, domain: [0, 1], type: 'date', range: [T(0), T(1439.99)],
    tickvals: xTickHours.map(h => T(h * 60)), tickformat: fmt, ticks: 'outside', ticklen: 6, tickwidth: 1, tickcolor: '#000',
    showline: true, mirror: true, linecolor: '#000', linewidth: 1.5,
    showgrid: true, gridcolor: '#b0b0b0', gridwidth: 1.3, zeroline: false,
    minor: {tick0: T(0), dtick: 1800000, ticks: 'outside', ticklen: 4, tickcolor: '#000', showgrid: true,
            gridcolor: '#cbc4b0', griddash: '1px,2px', gridwidth: 1},
    tickfont: tickFont, title: {text: 'time', font: titleFont, standoff: 8}, automargin: false};
}
function yAxis(anchor, domain) {
  return {anchor: anchor, domain: domain, range: [24, 108], tickvals: yTicks, ticks: 'outside', ticklen: 6,
    tickwidth: 1, tickcolor: '#000', showline: true, mirror: true, linecolor: '#000', linewidth: 1.5,
    showgrid: true, gridcolor: '#b0b0b0', gridwidth: 1.3, zeroline: false,
    minor: {dtick: 3, tick0: 24, ticks: 'outside', ticklen: 4, tickcolor: '#000', showgrid: true,
            gridcolor: '#cfc9ba', griddash: '3px,2px', gridwidth: 1},
    tickfont: tickFont, title: {text: 'dB SPL', font: titleFont, standoff: 8}, automargin: false};
}
function yRight(over, anchor) {
  return {overlaying: over, anchor: anchor, side: 'right', range: [24, 108], tickvals: yTicks, ticks: 'outside',
    ticklen: 6, tickwidth: 1, tickcolor: '#000', showline: false, showgrid: false, zeroline: false,
    minor: {dtick: 3, tick0: 24, ticks: 'outside', ticklen: 4, tickcolor: '#000', showgrid: false},
    tickfont: tickFont, title: {text: 'dB SPL', font: titleFont, standoff: 8}, automargin: false};
}

const layout = {
  width: 2400, height: 1200,
  margin: {l: 59, r: 57, t: 0, b: 0, pad: 0},
  paper_bgcolor: '#ffffff', plot_bgcolor: '#FFF8DC',
  font: {family: FONT, color: '#000'},
  title: {text: '<b>data from [421/mic0]<br>starting point is [20250108_000006]</b>',
          x: 0.0092, xanchor: 'left', y: 0.978, yanchor: 'middle', font: {family: FONT, size: 13.8, color: '#000'}},
  xaxis: xAxis('y', '%H:%M'),
  yaxis: yAxis('x', [0.51, 0.93]),
  yaxis3: yRight('y', 'x'),
  xaxis2: xAxis('y2', '%H:%M:%S'),
  yaxis2: yAxis('x2', [0.0425, 0.4625]),
  yaxis4: yRight('y2', 'x2'),
  showlegend: true,
  legend: {x: 0.913, xanchor: 'left', y: 0.5135, yanchor: 'bottom', bgcolor: 'rgba(0,0,0,0)', borderwidth: 0,
           font: legFont, itemwidth: 30, tracegroupgap: 0},
  legend2: {x: 0.958, xanchor: 'left', y: 0.5135, yanchor: 'bottom', bgcolor: 'rgba(0,0,0,0)', borderwidth: 0,
           font: legFont, itemwidth: 30, tracegroupgap: 0},
  legend3: {x: 0.9985, xanchor: 'right', y: 0.046, yanchor: 'bottom', bgcolor: 'rgba(255,248,220,0.85)',
           bordercolor: '#dcbc8c', borderwidth: 1.5, font: legFont, itemwidth: 30},
  shapes: [{type: 'rect', xref: 'paper', yref: 'paper', x0: 0.912, x1: 0.9991, y0: 0.5133, y1: 0.5655,
            fillcolor: 'rgba(255,248,220,0.85)', line: {color: '#dcbc8c', width: 1.5}, layer: 'above'}],
  annotations: [
    {text: '<b>average and peak noise level (1 min sampling)</b>', xref: 'paper', yref: 'paper', x: 0, y: 0.9408,
     xanchor: 'left', yanchor: 'middle', showarrow: false, font: {family: FONT, size: 11.6, color: '#000'}},
    {text: '<b>average noise level (5 min with 15s min/max dB envelope)</b>', xref: 'paper', yref: 'paper', x: 0, y: 0.4755,
     xanchor: 'left', yanchor: 'middle', showarrow: false, font: {family: FONT, size: 11.6, color: '#000'}}
  ]
};

Plotly.newPlot('chart', traces, layout, {staticPlot: true, displayModeBar: false});
</script>
</body>
</html>
